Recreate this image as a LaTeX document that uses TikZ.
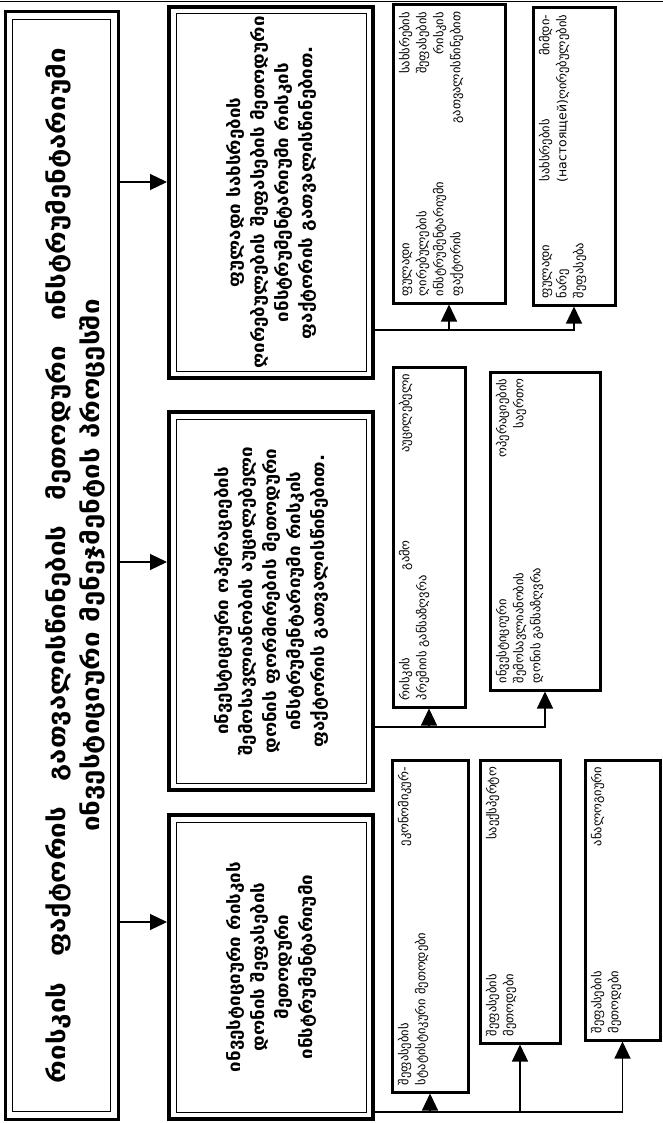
\documentclass[tikz,border=0pt]{standalone}
\usepackage{fontspec}
\usepackage{graphicx}
\usetikzlibrary{arrows.meta}

\newfontfamily\geo{DejaVu Sans}
\newfontfamily\geohead[FakeStretch=1.15]{DejaVu Sans}
\newfontfamily\geobox[FakeStretch=1.1]{DejaVu Sans}

\newcommand\titlefont{\geohead\bfseries\fontsize{24}{34}\selectfont}
\newcommand\boxfont{\geobox\bfseries\fontsize{17}{24}\selectfont}
\newcommand\subfont{\geo\fontsize{12.5}{17}\selectfont}

% one line spread over the whole width
\newcommand\jl[1]{\makebox[\hsize][s]{#1}}
% text turned up the page, kept to the left side of its box
\newcommand\uptext[3]{\rotatebox{90}{\parbox[c][#1][t]{#2}{#3}}}
% centred block turned up the page
\newcommand\upcentre[2]{\rotatebox{90}{\parbox{#1}{\centering #2}}}

\begin{document}
\begin{tikzpicture}[x = 1pt, y = -1pt, % page pixels, y running down
                > = {Triangle[length = 17pt, width = 16pt]}, % arrow head style
                line width = 1.2pt % line style
            ]

            \tikzstyle{titlebox}=[draw = black, line width = 3pt, inner sep = 0pt]
            \tikzstyle{mainbox}=[draw = black, line width = 4pt, inner sep = 0pt]
            \tikzstyle{subbox}=[draw = black, line width = 3pt, inner sep = 0pt]
            \tikzstyle{inner}=[line width = 1pt]

            \useasboundingbox (0,0) rectangle (663,1123);
            \draw[line width = 1pt] (0,1.5) -- (663,1.5);

            % heading
            \node[titlebox, minimum width = 113pt, minimum height = 1107pt] (title) at (61.5,565.5)
            {\upcentre{1035pt}{\vspace*{28pt}\titlefont \jl{რისკის ფაქტორის გათვალისწინების მეთოდური ინსტრუმენტარიუმი}\\
            ინვესტიციური მენეჯმენტის პროცესში}};

            % three main groups
            \node[mainbox, minimum width = 204pt, minimum height = 371pt] (m3) at (271,192.5)
            {\upcentre{356pt}{\boxfont ფულადი სახსრების\\ ღირებულების შეფასების მეთოდური\\
            ინსტრუმენტარიუმი რისკის\\ ფაქტორის გათვალისწინებით.}};
            \node[mainbox, minimum width = 204pt, minimum height = 378pt] (m2) at (271,601)
            {\upcentre{356pt}{\boxfont ინვესტიციური ოპერაციების\\ შემოსავლიანობის აუცილებელი\\
            დონის ფორმირების მეთოდური\\ ინსტრუმენტარიუმი რისკის\\ ფაქტორის გათვალისწინებით.}};
            \node[mainbox, minimum width = 204pt, minimum height = 304pt] (m1) at (271,967)
            {\upcentre{284pt}{\boxfont ინვესტიციური რისკის\\ დონის შეფასების\\ მეთოდური\\
            ინსტრუმენტარიუმი}};

            \foreach \n in {title, m1, m2, m3}
                \draw[inner] ([shift={(9,9)}]\n.north west) rectangle ([shift={(-9,-9)}]\n.south east);

            % methods of each group
            \node[subbox, minimum width = 112pt, minimum height = 298pt] (a) at (449,154)
            {\uptext{100pt}{284pt}{\subfont \jl{ფულადი სახსრების}\\ \jl{ღირებულების შეფასების}\\
            \jl{ინსტრუმენტარიუმი რისკის}\\ \jl{ფაქტორის გათვალისწინებით}}};
            \node[subbox, minimum width = 82pt, minimum height = 297pt] (b) at (574,156.5)
            {\uptext{70pt}{283pt}{\subfont \jl{ფულადი სახსრების მიმდი-}\\
            \jl{ნარე (настоящей)ღირებულების}\\ შეფასება}};

            \node[subbox, minimum width = 72pt, minimum height = 340pt] (c) at (429,537)
            {\uptext{60pt}{326pt}{\subfont \jl{რისკის გამო აუცილებელი}\\ პრემიის განსაზღვრა}};
            \node[subbox, minimum width = 110pt, minimum height = 318pt] (d) at (545,531)
            {\uptext{98pt}{304pt}{\subfont \jl{ინვესტიციური ოპერაციების}\\
            \jl{შემოსავლიანობის საერთო}\\ დონის განსაზღვრა}};

            \node[subbox, minimum width = 76pt, minimum height = 332pt] (e) at (430,926)
            {\uptext{64pt}{318pt}{\subfont \jl{შეფასების ეკონომიკურ-}\\ სტატისტიკური მეთოდები}};
            \node[subbox, minimum width = 80pt, minimum height = 283pt] (f) at (520,901.5)
            {\uptext{68pt}{269pt}{\subfont \jl{შეფასების საექსპერტო}\\ მეთოდები}};
            \node[subbox, minimum width = 75pt, minimum height = 280pt] (g) at (622.5,900)
            {\uptext{63pt}{266pt}{\subfont \jl{შეფასების ანალოგიური}\\ მეთოდები}};

            % heading to groups
            \draw[->] (title.east |- 0,182) -- (m3.west |- 0,182);
            \draw[->] (title.east |- 0,562) -- (m2.west |- 0,562);
            \draw[->] (title.east |- 0,922) -- (m1.west |- 0,922);

            % groups to their methods
            \coordinate (bus3) at (380,330);
            \coordinate (bus2) at (380,727);
            \coordinate (bus1) at (380,1112);
            \draw[->] (m3.east |- bus3) -| (b.south);
            \draw[->] (a.south |- bus3) -- (a.south);
            \draw[->] (m2.east |- bus2) -| (d.south);
            \draw[->] (c.south |- bus2) -- (c.south);
            \draw[->] (m1.east |- bus1) -| (g.south);
            \draw[->] (e.south |- bus1) -- (e.south);
            \draw[->] (f.south |- bus1) -- (f.south);
\end{tikzpicture}
\end{document}
